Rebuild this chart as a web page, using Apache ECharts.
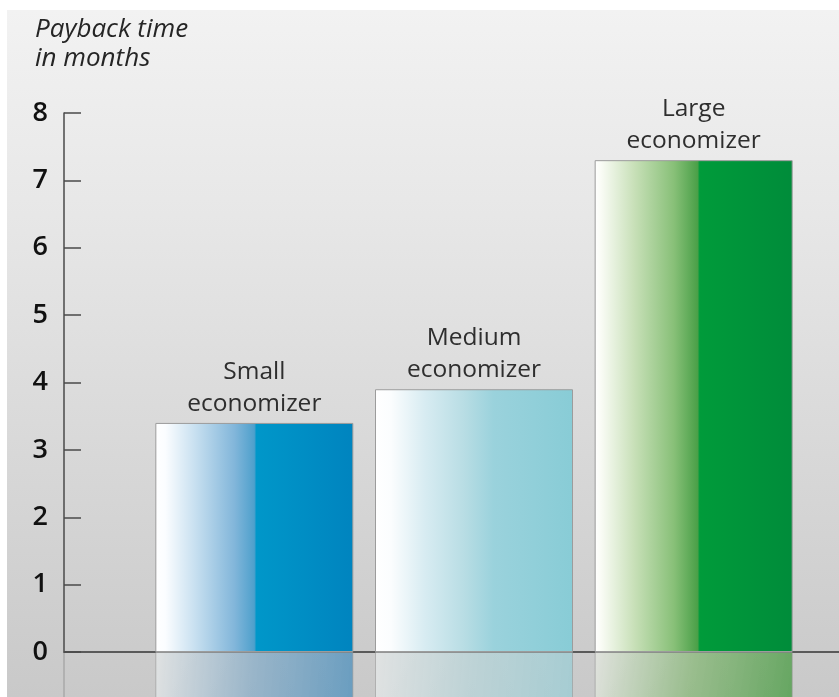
<!DOCTYPE html>
<html>
<head>
<meta charset="utf-8">
<script src="https://cdn.jsdelivr.net/npm/echarts@6/dist/echarts.min.js"></script>
<style>
  html, body { margin: 0; padding: 0; background: #ffffff; }
  #panel { position: absolute; left: 7px; top: 10px; width: 832px; height: 687px;
    background: linear-gradient(to bottom, #f2f2f2 0%, #e7e7e7 30%, #dadada 60%, #cecece 88%, #c9c9c9 100%); }
  #chart { position: absolute; left: 0; top: 0; width: 839px; height: 697px; }
</style>
</head>
<body>
<div id="panel"></div>
<div id="chart"></div>
<script>
const categories = ['Small\neconomizer', 'Medium\neconomizer', 'Large\neconomizer'];
const paybackMonths = [3.4, 3.9, 7.3];
const yTicks = { min: 0, max: 8, interval: 1 };
const axisTitle = 'Payback time\nin months';

function grad(stops) {
  return { type: 'linear', x: 0, y: 0, x2: 1, y2: 0,
    colorStops: stops.map(s => ({ offset: s[0], color: s[1] })) };
}
function gradDiag(stops) {
  return { type: 'linear', x: 0, y: 0, x2: 1, y2: 0.25,
    colorStops: stops.map(s => ({ offset: s[0], color: s[1] })) };
}
const barFills = [
  grad([[0, '#ffffff'], [0.05, '#fbfdff'], [0.2, '#c8e0f0'], [0.4, '#82b6da'], [0.5, '#4ea0cc'], [0.51, '#0097c9'], [1, '#0084bf']]),
  grad([[0, '#ffffff'], [0.08, '#fbfdfe'], [0.25, '#d8ecf2'], [0.45, '#b8dde4'], [0.6, '#9ad2dc'], [1, '#88ccd6']]),
  grad([[0, '#ffffff'], [0.03, '#fafcf6'], [0.2, '#c8e0b8'], [0.4, '#88c078'], [0.52, '#4aa048'], [0.53, '#009b3a'], [1, '#008c3a']])
];
const reflFills = [
  gradDiag([[0, 'rgba(228,230,230,0.85)'], [0.5, 'rgba(140,175,200,0.8)'], [1, 'rgba(90,150,190,0.85)']]),
  gradDiag([[0, 'rgba(228,230,230,0.85)'], [0.5, 'rgba(185,212,216,0.8)'], [1, 'rgba(160,205,212,0.85)']]),
  gradDiag([[0, 'rgba(228,230,225,0.85)'], [0.5, 'rgba(140,185,125,0.8)'], [1, 'rgba(85,160,80,0.85)']])
];

const chart = echarts.init(document.getElementById('chart'), null, { renderer: 'canvas' });
const font = "'Open Sans', 'Noto Sans', sans-serif";
const TOP = 113, H = 539, BASE = TOP + H;

chart.setOption({
  backgroundColor: 'transparent',
  animation: false,
  title: {
    text: axisTitle, left: 35, top: 15, padding: 0,
    textStyle: { fontFamily: font, fontStyle: 'italic', fontWeight: 'normal', fontSize: 26, lineHeight: 29, color: '#252525' }
  },
  grid: [
    { left: 64, right: 0, top: TOP, height: H },
    { left: 144.5, width: 659, top: TOP, height: H },
    { left: 144.5, width: 659, top: BASE, height: H },
    { left: 64, right: 0, top: BASE, height: H }
  ],
  xAxis: [
    { gridIndex: 0, type: 'value', min: 0, max: 1, axisLine: { show: true, onZero: false, lineStyle: { color: '#5a5a5a', width: 2 } },
      axisTick: { show: false }, axisLabel: { show: false }, splitLine: { show: false } },
    { gridIndex: 1, type: 'category', data: categories, show: false },
    { gridIndex: 2, type: 'category', data: categories, show: false },
    { gridIndex: 3, type: 'value', min: 0, max: 1, show: false }
  ],
  yAxis: [
    { gridIndex: 0, type: 'value', min: yTicks.min, max: yTicks.max, interval: yTicks.interval,
      axisLine: { show: true, lineStyle: { color: '#4a4a4a', width: 1.5 } },
      axisTick: { show: true, inside: true, length: 17, lineStyle: { color: '#4a4a4a', width: 1.5 } },
      axisLabel: { margin: 16, fontFamily: font, fontSize: 27, fontWeight: 600, color: '#111111', padding: [8, 0, 0, 0] },
      splitLine: { show: false } },
    { gridIndex: 1, type: 'value', min: yTicks.min, max: yTicks.max, show: false },
    { gridIndex: 2, type: 'value', min: yTicks.min, max: yTicks.max, inverse: true, show: false },
    { gridIndex: 3, type: 'value', min: yTicks.min, max: yTicks.max, inverse: true,
      axisLine: { show: true, lineStyle: { color: '#a8a8a8', width: 1.5 } },
      axisTick: { show: false }, axisLabel: { show: false }, splitLine: { show: false } }
  ],
  series: [
    {
      type: 'bar', xAxisIndex: 1, yAxisIndex: 1, barWidth: 198, z: 3,
      data: paybackMonths.map((v, i) => ({ value: v, itemStyle: { color: barFills[i] } })),
      itemStyle: { borderColor: '#9c9c9c', borderWidth: 1 },
      label: { show: true, position: 'top', distance: 3, formatter: '{b}', fontFamily: font,
        fontSize: 24.5, lineHeight: 32, color: '#2e2e2e', align: 'center' }
    },
    {
      type: 'bar', xAxisIndex: 2, yAxisIndex: 2, barWidth: 198, z: 2,
      data: paybackMonths.map((v, i) => ({ value: v, itemStyle: { color: reflFills[i] } })),
      itemStyle: { borderColor: 'rgba(150,150,150,0.6)', borderWidth: 1 }
    }
  ]
});
</script>
</body>
</html>
